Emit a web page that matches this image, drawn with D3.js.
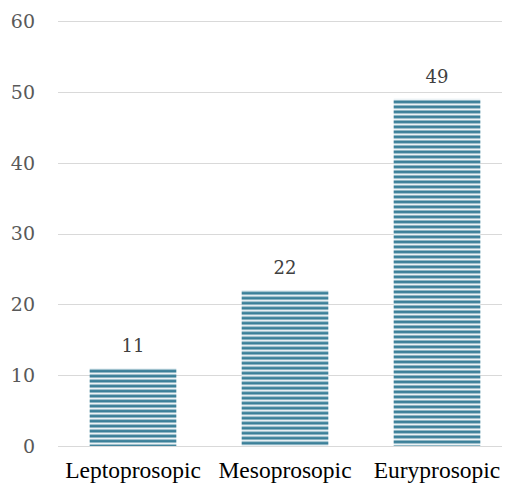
<!DOCTYPE html>
<html>
<head>
<meta charset="utf-8">
<script src="https://cdn.jsdelivr.net/npm/d3@7"></script>
<style>
  html, body { margin: 0; padding: 0; background: #fff; }
  svg { display: block; }
</style>
</head>
<body>
<svg id="chart" width="507" height="484"></svg>
<script>
const categories = ["Leptoprosopic", "Mesoprosopic", "Euryprosopic"];
const values = [11, 22, 49];
const yTicks = [0, 10, 20, 30, 40, 50, 60];

const svg = d3.select("#chart");

const x = d3.scaleBand()
  .domain(categories)
  .range([57, 57 + 152 * 3])
  .paddingInner(0.43)
  .paddingOuter(0.215);

const y = d3.scaleLinear()
  .domain([0, 60])
  .range([446, 21]);

// gridlines
svg.append("g")
  .selectAll("line")
  .data(yTicks)
  .join("line")
  .attr("x1", 58)
  .attr("x2", 502)
  .attr("y1", d => Math.round(y(d)) + 0.5)
  .attr("y2", d => Math.round(y(d)) + 0.5)
  .attr("stroke", "#d9d9d9")
  .attr("stroke-width", 1);

// y tick labels
svg.append("g")
  .selectAll("text")
  .data(yTicks)
  .join("text")
  .attr("x", 35)
  .attr("y", d => y(d))
  .attr("dy", "0.36em")
  .attr("text-anchor", "end")
  .attr("font-family", "DejaVu Serif, serif")
  .attr("font-size", 19)
  .attr("fill", "#595959")
  .text(d => d);

// horizontal stripe fill, one pattern per bar so each starts at its top edge
const defs = svg.append("defs");
values.forEach((v, i) => {
  const p = defs.append("pattern")
    .attr("id", "stripes" + i)
    .attr("patternUnits", "userSpaceOnUse")
    .attr("width", 10)
    .attr("height", 5)
    .attr("y", y(v));
  p.append("rect").attr("width", 10).attr("height", 5).attr("fill", "#f4f8fa");
  p.append("rect").attr("y", 1.5).attr("width", 10).attr("height", 3).attr("fill", "#3b8099");
});

// bars
svg.append("g")
  .selectAll("rect")
  .data(values)
  .join("rect")
  .attr("x", (d, i) => x(categories[i]))
  .attr("y", d => y(d))
  .attr("width", x.bandwidth())
  .attr("height", d => y(0) - y(d))
  .attr("fill", (d, i) => `url(#stripes${i})`);

// value labels
svg.append("g")
  .selectAll("text")
  .data(values)
  .join("text")
  .attr("x", (d, i) => x(categories[i]) + x.bandwidth() / 2)
  .attr("y", d => y(d) - 16)
  .attr("text-anchor", "middle")
  .attr("font-family", "DejaVu Serif, serif")
  .attr("font-size", 18)
  .attr("fill", "#404040")
  .text(d => d);

// category labels
svg.append("g")
  .selectAll("text")
  .data(categories)
  .join("text")
  .attr("x", d => x(d) + x.bandwidth() / 2)
  .attr("y", 478)
  .attr("text-anchor", "middle")
  .attr("font-family", "Liberation Serif, serif")
  .attr("font-size", 23.5)
  .attr("fill", "#000")
  .text(d => d);
</script>
</body>
</html>
